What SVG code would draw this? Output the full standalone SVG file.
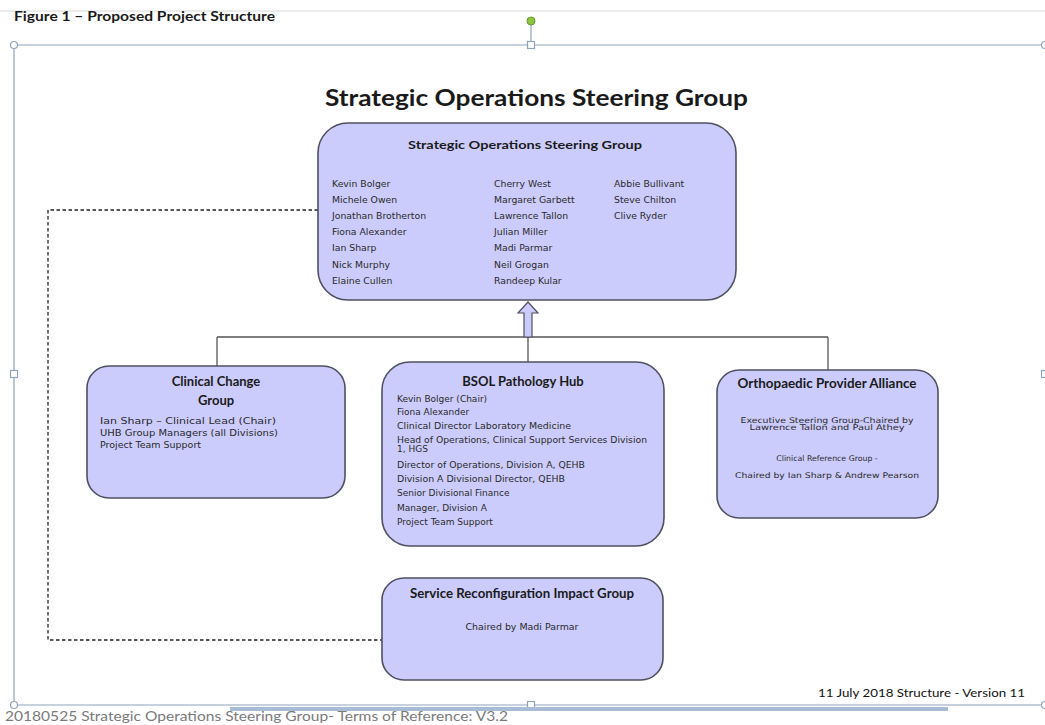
<svg xmlns="http://www.w3.org/2000/svg" width="1045" height="725" viewBox="0 0 1045 725">
<style>
.box{fill:#ccccfc;stroke:#505060;stroke-width:1.6}
.h{font-family:Lato,"Open Sans","Liberation Sans",sans-serif;font-weight:bold;fill:#1a1a1a}
.t{font-family:"DejaVu Sans","Liberation Sans",sans-serif;fill:#2a2a2a}
.frame{stroke:#8fa3bd;stroke-width:1.2;fill:none}
.hd{fill:#fff;stroke:#8fa3bd;stroke-width:1.2}
.conn{stroke:#555;stroke-width:1.3;fill:none}
</style>
<rect width="1045" height="725" fill="#fff"/>
<line x1="0" y1="11" x2="1045" y2="11" stroke="#d8d8d8" stroke-width="1"/>
<text class="h" x="14" y="21" font-size="12.5" textLength="261" lengthAdjust="spacingAndGlyphs">Figure 1 – Proposed Project Structure</text>

<g id="frame">
<line class="frame" x1="14" y1="45" x2="1045" y2="45"/>
<line class="frame" x1="14" y1="45" x2="14" y2="705"/>
<line class="frame" x1="14" y1="705" x2="1045" y2="705"/>
<line class="frame" x1="531" y1="22" x2="531" y2="45"/>
<circle cx="531" cy="21" r="4" fill="#8cc63f" stroke="#6a9a30" stroke-width="1"/>
<circle class="hd" cx="14" cy="45" r="3.5"/>
<rect class="hd" x="527.5" y="41.5" width="7" height="7"/>
<circle class="hd" cx="1045" cy="45" r="3.5"/>
<rect class="hd" x="10.5" y="370.5" width="7" height="7"/>
<rect class="hd" x="1041.5" y="370.5" width="7" height="7"/>
<circle class="hd" cx="14" cy="705" r="3.5"/>
<rect class="hd" x="527.5" y="701.5" width="7" height="7"/>
<circle class="hd" cx="1045" cy="705" r="3.5"/>
<rect x="230" y="707" width="718" height="4" fill="#a8bcd6"/>
</g>

<text class="h" x="325" y="106" font-size="22" textLength="423" lengthAdjust="spacingAndGlyphs">Strategic Operations Steering Group</text>

<g id="connectors">
<polyline points="318,210 48,210 48,640 382,640" fill="none" stroke="#222" stroke-width="1.3" stroke-dasharray="3.5,2.5"/>
<line class="conn" x1="217" y1="337" x2="828" y2="337"/>
<line class="conn" x1="217" y1="337" x2="217" y2="366"/>
<line class="conn" x1="528" y1="337" x2="528" y2="362"/>
<line class="conn" x1="828" y1="337" x2="828" y2="370"/>
<polygon points="528,302 538,313 532,313 532,337 524,337 524,313 518,313" fill="#ccccfc" stroke="#505060" stroke-width="1.2"/>
</g>

<g id="sosg">
<rect class="box" x="318" y="123" width="418" height="177" rx="30"/>
<text class="h" x="408" y="149" font-size="11.5" textLength="234" lengthAdjust="spacingAndGlyphs">Strategic Operations Steering Group</text>
<g class="t" font-size="9.3">
<text x="332" y="187">Kevin Bolger</text>
<text x="332" y="203">Michele Owen</text>
<text x="332" y="219">Jonathan Brotherton</text>
<text x="332" y="235">Fiona Alexander</text>
<text x="332" y="251">Ian Sharp</text>
<text x="332" y="268">Nick Murphy</text>
<text x="332" y="284">Elaine Cullen</text>
<text x="494" y="187">Cherry West</text>
<text x="494" y="203">Margaret Garbett</text>
<text x="494" y="219">Lawrence Tallon</text>
<text x="494" y="235">Julian Miller</text>
<text x="494" y="251">Madi Parmar</text>
<text x="494" y="268">Neil Grogan</text>
<text x="494" y="284">Randeep Kular</text>
<text x="614" y="187">Abbie Bullivant</text>
<text x="614" y="203">Steve Chilton</text>
<text x="614" y="219">Clive Ryder</text>
</g>
</g>

<g id="clinical-change">
<rect class="box" x="87" y="366" width="258" height="132" rx="22"/>
<text class="h" x="216" y="386" font-size="13" text-anchor="middle">Clinical Change</text>
<text class="h" x="216" y="405" font-size="13" text-anchor="middle">Group</text>
<g class="t" font-size="8.5">
<text x="100" y="424" textLength="176" lengthAdjust="spacingAndGlyphs">Ian Sharp – Clinical Lead (Chair)</text>
<text x="100" y="436" textLength="178" lengthAdjust="spacingAndGlyphs">UHB Group Managers (all Divisions)</text>
<text x="100" y="448" textLength="101" lengthAdjust="spacingAndGlyphs">Project Team Support</text>
</g>
</g>

<g id="bsol">
<rect class="box" x="382" y="362" width="282" height="184" rx="28"/>
<text class="h" x="523" y="386" font-size="13" text-anchor="middle">BSOL Pathology Hub</text>
<g class="t" font-size="9">
<text x="397" y="402">Kevin Bolger (Chair)</text>
<text x="397" y="415">Fiona Alexander</text>
<text x="397" y="429" textLength="174" lengthAdjust="spacingAndGlyphs">Clinical Director Laboratory Medicine</text>
<text x="397" y="443" textLength="250" lengthAdjust="spacingAndGlyphs">Head of Operations, Clinical Support Services Division</text>
<text x="397" y="452">1, HGS</text>
<text x="397" y="468" textLength="188" lengthAdjust="spacingAndGlyphs">Director of Operations, Division A, QEHB</text>
<text x="397" y="482" textLength="168" lengthAdjust="spacingAndGlyphs">Division A Divisional  Director, QEHB</text>
<text x="397" y="496">Senior Divisional Finance</text>
<text x="397" y="511">Manager, Division A</text>
<text x="397" y="525">Project Team Support</text>
</g>
</g>

<g id="ortho">
<rect class="box" x="717" y="370" width="221" height="148" rx="22"/>
<text class="h" x="827" y="388" font-size="12.5" text-anchor="middle" textLength="179" lengthAdjust="spacingAndGlyphs">Orthopaedic Provider Alliance</text>
<g class="t" font-size="7.8" text-anchor="middle">
<text x="827" y="423" textLength="173" lengthAdjust="spacingAndGlyphs">Executive Steering Group-Chaired by</text>
<text x="827" y="430" textLength="155" lengthAdjust="spacingAndGlyphs">Lawrence  Tallon and Paul Athey</text>
<text x="827" y="461">Clinical Reference Group -</text>
<text x="827" y="478" textLength="184" lengthAdjust="spacingAndGlyphs">Chaired by Ian Sharp &amp; Andrew Pearson</text>
</g>
</g>

<g id="srig">
<rect class="box" x="382" y="578" width="281" height="102" rx="22"/>
<text class="h" x="522" y="598" font-size="12.5" text-anchor="middle" textLength="224" lengthAdjust="spacingAndGlyphs">Service Reconfiguration Impact Group</text>
<text class="t" x="522" y="630" font-size="8" text-anchor="middle" textLength="113" lengthAdjust="spacingAndGlyphs">Chaired by Madi Parmar</text>
</g>

<text x="818" y="697" font-family="Lato,'Open Sans',sans-serif" font-size="12" fill="#111" textLength="207" lengthAdjust="spacingAndGlyphs">11 July 2018 Structure  - Version 11</text>
<text x="5" y="721" font-family="Lato,'Open Sans',sans-serif" font-size="14" fill="#7a7a7a" textLength="503" lengthAdjust="spacingAndGlyphs">20180525 Strategic Operations Steering Group- Terms of Reference: V3.2</text>
</svg>
